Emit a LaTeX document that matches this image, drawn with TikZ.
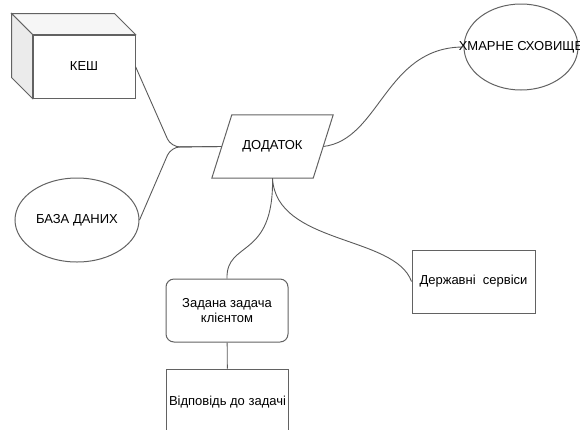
\documentclass[tikz,border=0pt]{standalone}
\usepackage{fontspec}
\setmainfont{Liberation Sans}
\usepackage{tikz}
\usepackage{xcolor}
\usetikzlibrary{calc}
\usetikzlibrary{shapes.geometric}

\definecolor{rand}{HTML}{626262}
\definecolor{lijn}{HTML}{5A5A5A}

\begin{document}
\begin{tikzpicture}[x=1pt, y=-1pt]

\tikzset{
    box/.style = {
    minimum height=63pt,
    minimum width = 122pt,
    inner sep=0pt,
    font=\fontsize{13}{15}\selectfont
    }
}

\tikzstyle{blok}=[draw=rand, line width=1pt, box]
\tikzstyle{ovaal}=[draw=rand, line width=1pt, ellipse, box]
\tikzstyle{lijntje}=[draw=lijn, line width=0.9pt]

\useasboundingbox (0,0) rectangle (580,429);

% kubus
\node (s-kesh) [blok, minimum width=102pt] at (84,66.5) {КЕШ};
\draw [blok, fill=gray!7] (s-kesh.north west) -- ++(-21,-21) -- ([shift={(-21,-21)}]s-kesh.north east) -- (s-kesh.north east) -- cycle;
\draw [blok, fill=gray!16] (s-kesh.north west) -- ++(-21,-21) -- ([shift={(-21,-21)}]s-kesh.south west) -- (s-kesh.south west) -- cycle;

\node (s-dodatok) [box, minimum width=101pt] at (272.5,146.5) {ДОДАТОК};
\draw [blok] ([xshift=10pt]s-dodatok.north west) -- ([xshift=10pt]s-dodatok.north east) -- ([xshift=-10pt]s-dodatok.south east) -- ([xshift=-10pt]s-dodatok.south west) -- cycle;

\node (s-baza) [ovaal, minimum width=124pt, minimum height=84pt] at (77,220) {БАЗА ДАНИХ};
\node (s-khmara) [ovaal, minimum width=114pt, minimum height=86pt] at (521,47) {\makebox[0pt]{ХМАРНЕ СХОВИЩЕ}};

\node (s-zadacha) [blok, rounded corners=8pt, align=center] at (227,310.5) {Задана задача\\клієнтом};
\node (s-vidpovid) [blok, minimum height=66pt] at (227.5,402) {Відповідь до задачі};
\node (s-servisy) [blok, minimum width=123pt] at (473.5,281.5) {Державні\ \ сервіси};

\coordinate (j-links) at (171,147);

\draw [lijntje, rounded corners=9pt] (s-kesh.east) -- (j-links) -- (s-dodatok.west);
\draw [lijntje, rounded corners=9pt] (s-baza.east) -- (j-links) -- (s-dodatok.west);
\draw [lijntje] (s-dodatok.east) .. controls (380,140) and (385,47) .. (s-khmara.west);
\draw [lijntje] (s-dodatok.south) .. controls (274,260) and (226,240) .. (s-zadacha.north);
\draw [lijntje] (s-dodatok.south) .. controls (276,245) and (395,235) .. (s-servisy.west);
\draw [lijntje] (s-zadacha) -- (s-vidpovid);

\end{tikzpicture}
\end{document}
